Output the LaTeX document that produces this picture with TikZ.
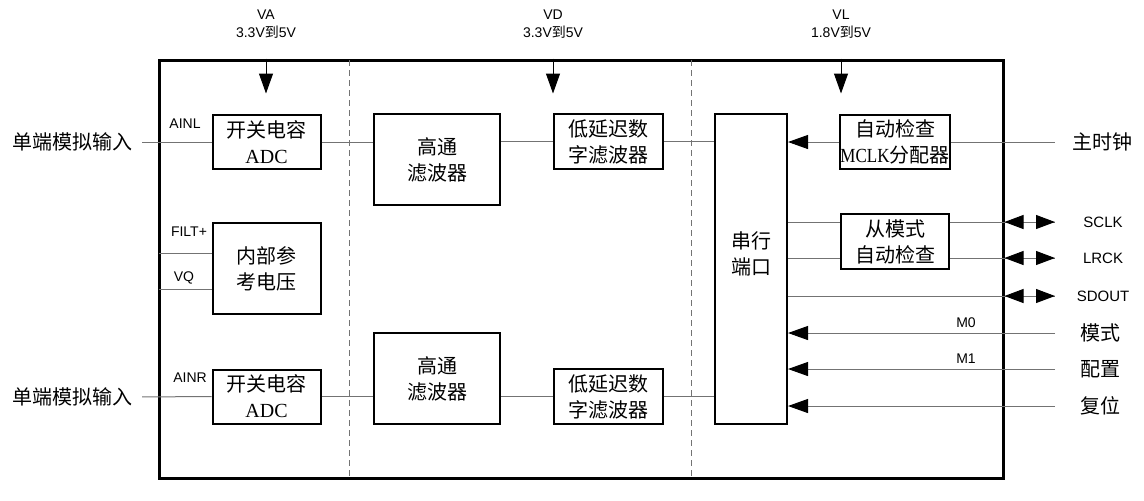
\documentclass[tikz,border=0pt]{standalone}
\usepackage{fontspec}
\setmainfont{Liberation Serif}
\newfontfamily\cjk{Noto Sans CJK SC}
\newfontfamily\arial{Liberation Sans}
\usetikzlibrary{arrows.meta}

\tikzset{
  blk/.style={draw, line width=1pt, fill=white, align=center, inner sep=0pt,
    font=\cjk\fontsize{10pt}{13pt}\selectfont},
  chip/.style={draw, line width=1.5pt, inner sep=0pt},
  sig/.style={draw=black!55, line width=0.5pt},
  divider/.style={draw=black!55, line width=0.5pt, dash pattern=on 3pt off 2pt},
  pin/.style={font=\arial\fontsize{7pt}{9pt}\selectfont, inner sep=0pt},
  pinbig/.style={font=\arial\fontsize{7.5pt}{9pt}\selectfont, inner sep=0pt},
  extlbl/.style={font=\cjk\fontsize{10pt}{12pt}\selectfont, inner sep=4.5pt},
  pwrarrow/.style={draw=black, line width=0.5pt, -{Triangle[length=10pt,width=7pt]}},
  inarrow/.style={sig, -{Triangle[length=10pt,width=7pt,color=black]}},
  busarrow/.style={sig, {Triangle[length=9.5pt,width=7pt,color=black]}-{Triangle[length=9.5pt,width=7pt,color=black]}}
}

\begin{document}
\begin{tikzpicture}[x=0.5pt,y=-0.5pt]
\useasboundingbox (0,0) rectangle (1144,500);
% chip and supply domains
\node[chip, minimum width=422pt, minimum height=209pt] (chip) at (581,269) {};
\draw[divider] (349,60) -- (349,478);
\draw[divider] (691,60) -- (691,478);
\node[pin, align=center] (va) at (266,24) {VA\\3.3V{\cjk 到}5V};
\node[pin, align=center] (vd) at (553,24) {VD\\3.3V{\cjk 到}5V};
\node[pin, align=center] (vl) at (841,24) {VL\\1.8V{\cjk 到}5V};
\foreach \n in {va,vd,vl}
  \draw[pwrarrow] (chip.north -| \n) -- ++(0,35);

% blocks
\node[blk, minimum width=54pt, minimum height=27pt] (adcL) at (266.5,142) {开关电容\\{\rmfamily ADC}};
\node[blk, minimum width=54pt, minimum height=45.5pt] (ref) at (266.5,268.5) {内部参\\考电压};
\node[blk, minimum width=54pt, minimum height=27pt] (adcR) at (266.5,396.5) {开关电容\\{\rmfamily ADC}};
\node[blk, minimum width=63pt, minimum height=45.5pt] (hpfL) at (437,159.5) {高通\\滤波器};
\node[blk, minimum width=63pt, minimum height=45.5pt] (hpfR) at (437,378.5) {高通\\滤波器};
\node[blk, minimum width=54.5pt, minimum height=27.5pt] (fltL) at (608.5,141.5) {低延迟数\\字滤波器};
\node[blk, minimum width=54.5pt, minimum height=27.5pt] (fltR) at (608.5,396.5) {低延迟数\\字滤波器};
\node[blk, minimum width=36pt, minimum height=155pt] (sp) at (751,269) {};
\node[blk, draw=none, fill=none] (spLbl) at (751,254) {串行\\端口};
\node[blk, minimum width=54pt, minimum height=27pt] (mclk) at (895,142) {自动检查\\{\rmfamily\scalebox{0.85}[1]{MCLK}}分配器};
\node[blk, minimum width=54pt, minimum height=27.5pt] (slv) at (895,241.5) {从模式\\自动检查};

% analog side
\node[extlbl, anchor=east] (inL) at (142,142) {单端模拟输入};
\node[extlbl, anchor=east] (inR) at (142,397) {单端模拟输入};
\draw[sig] (inL) -- (adcL);
\draw[sig] (inR) -- (adcR);
\node[pin] (ainl) at (185,124) {AINL};
\node[pin] (ainr) at (190,378) {AINR};
\node[pin] (filtLbl) at (189,232) {FILT+};
\node[pin] (vqLbl) at (184,278) {VQ};
\coordinate (filt) at (159,253);
\coordinate (vq) at (159,289);
\draw[sig] (filt) -- (filt -| ref.west);
\draw[sig] (vq) -- (vq -| ref.west);

% signal chain
\draw[sig] (adcL) -- (adcL -| hpfL.west);
\draw[sig] (fltL -| hpfL.east) -- (fltL);
\draw[sig] (fltL) -- (fltL -| sp.west);
\draw[sig] (adcR) -- (adcR -| hpfR.west);
\draw[sig] (fltR -| hpfR.east) -- (fltR);
\draw[sig] (fltR) -- (fltR -| sp.west);

% serial side
\coordinate (ckE) at (1055,142);
\node[extlbl, anchor=west] (ck) at (1063,142) {主时钟};
\draw[sig] (mclk) -- (ckE);
\draw[inarrow] (mclk) -- (mclk -| sp.east);
\coordinate (sclkE) at (1055,222);
\coordinate (lrckE) at (1055,258);
\coordinate (sdoutE) at (1055,296);
\foreach \s in {sclkE,lrckE} {
  \draw[sig] (sp.east |- \s) -- (slv.west |- \s);
  \draw[sig] (slv.east |- \s) -- (\s);
  \draw[busarrow] (chip.east |- \s) -- (\s);
}
\draw[sig] (sp.east |- sdoutE) -- (sdoutE);
\draw[busarrow] (chip.east |- sdoutE) -- (sdoutE);
\node[pinbig] (sclk) at (1103,222) {SCLK};
\node[pinbig] (lrck) at (1103,258) {LRCK};
\node[pinbig] (sdout) at (1103,296) {SDOUT};
\foreach \n/\y/\t in {mode/333/模式,cfg/369/配置,rst/406/复位} {
  \coordinate (\n-e) at (1055,\y);
  \node[extlbl, anchor=west] (\n) at (1071,\y) {\t};
  \draw[inarrow] (\n-e) -- (sp.east |- \n-e);
}
\node[pin] (m0) at (966,323) {M0};
\node[pin] (m1) at (966,359) {M1};
\end{tikzpicture}
\end{document}
